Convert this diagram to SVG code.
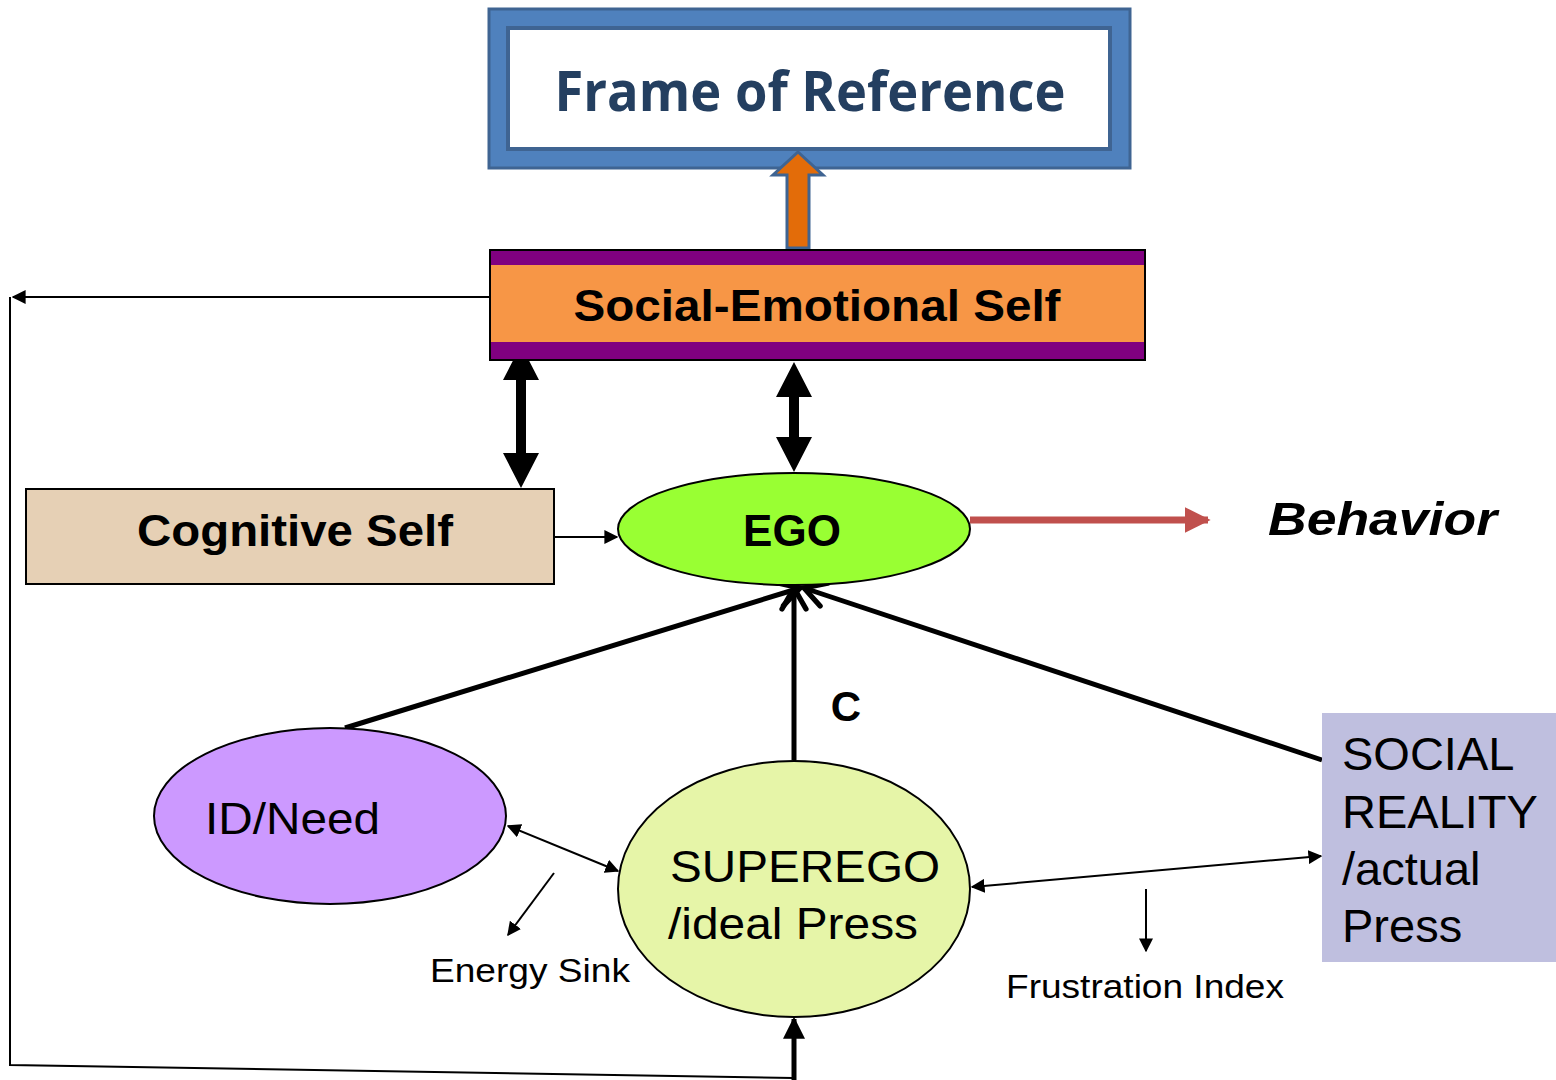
<svg xmlns="http://www.w3.org/2000/svg" width="1556" height="1080" viewBox="0 0 1556 1080">
  <style>
    .lbl { font-family: "Liberation Sans", Arial, sans-serif; fill: #000; }
    .bold { font-weight: bold; }
    .thin { stroke: #000; stroke-width: 2; fill: none; }
    .thick { stroke: #000; stroke-width: 5; fill: none; }
    .node { stroke: #000; stroke-width: 2; }
  </style>
  <defs>
    <marker id="triS" viewBox="0 0 10 10" refX="9" refY="5" markerWidth="14" markerHeight="14" markerUnits="userSpaceOnUse" orient="auto-start-reverse">
      <path d="M0,0 L10,5 L0,10 z" fill="#000"/>
    </marker>
    <marker id="chev" viewBox="0 0 20 20" refX="18" refY="10" markerWidth="30" markerHeight="30" markerUnits="userSpaceOnUse" orient="auto">
      <path d="M4,2 L18,10 L4,18" fill="none" stroke="#000" stroke-width="3.5" stroke-linecap="round"/>
    </marker>
    <marker id="big" viewBox="0 0 10 10" refX="9" refY="5" markerWidth="22" markerHeight="22" markerUnits="userSpaceOnUse" orient="auto">
      <path d="M0,0 L10,5 L0,10 z" fill="#000"/>
    </marker>
    <marker id="red" viewBox="0 0 10 10" refX="9" refY="5" markerWidth="26" markerHeight="26" markerUnits="userSpaceOnUse" orient="auto">
      <path d="M0,0 L10,5 L0,10 z" fill="#C0504D"/>
    </marker>
  </defs>

  <rect width="1556" height="1080" fill="#fff"/>

  <!-- Frame of Reference -->
  <g id="frame-of-reference">
    <rect x="489" y="9" width="641" height="159" fill="#4F81BD" stroke="#3F6492" stroke-width="3"/>
    <rect x="508" y="28" width="602" height="121" fill="#fff" stroke="#3F6492" stroke-width="4"/>
    <text x="810" y="111" text-anchor="middle" font-family="'Open Sans', 'Noto Sans', sans-serif" font-weight="bold" font-size="56" fill="#243F60" textLength="511" lengthAdjust="spacingAndGlyphs">Frame of Reference</text>
  </g>

  <!-- connectors -->
  <g id="connectors">
    <!-- feedback loop from Social-Emotional Self round to SUPEREGO -->
    <line x1="489" y1="297" x2="13" y2="297" class="thin" stroke-width="3" marker-end="url(#triS)"/>
    <polyline points="10,297 10,1065 793,1078" class="thin" stroke-width="3"/>
    <line x1="794" y1="1080" x2="794" y2="1019" class="thick" marker-end="url(#big)"/>

    <!-- orange block arrow up to Frame of Reference -->
    <polygon points="798,152 823,175 809,175 809,248 787,248 787,175 773,175" fill="#E36C09" stroke="#3F6492" stroke-width="3" stroke-linejoin="miter"/>

    <!-- thick double arrows -->
    <polygon points="521,345 539,380 526,380 526,453 539,453 521,488 503,453 516,453 516,380 503,380" fill="#000"/>
    <polygon points="794,362 812,397 799,397 799,437 812,437 794,472 776,437 789,437 789,397 776,397" fill="#000"/>

    <!-- Cognitive Self to EGO -->
    <line x1="554" y1="537" x2="617" y2="537" class="thin" marker-end="url(#triS)"/>

    <!-- EGO to Behavior -->
    <line x1="970" y1="520" x2="1208" y2="520" stroke="#C0504D" stroke-width="7" marker-end="url(#red)"/>

    <!-- converging thick lines into EGO -->
    <line x1="345" y1="728" x2="800" y2="588" class="thick" marker-end="url(#chev)"/>
    <line x1="794" y1="760" x2="794" y2="588" class="thick" marker-end="url(#chev)"/>
    <line x1="1322" y1="760" x2="804" y2="588" class="thick" marker-end="url(#chev)"/>

    <!-- ID / SUPEREGO -->
    <line x1="508" y1="826" x2="618" y2="871" class="thin" marker-start="url(#triS)" marker-end="url(#triS)"/>
    <line x1="554" y1="873" x2="508" y2="935" class="thin" marker-end="url(#triS)"/>

    <!-- SUPEREGO / SOCIAL REALITY -->
    <line x1="972" y1="887" x2="1321" y2="856" class="thin" marker-start="url(#triS)" marker-end="url(#triS)"/>
    <line x1="1146" y1="889" x2="1146" y2="951" class="thin" marker-end="url(#triS)"/>
  </g>

  <!-- Social-Emotional Self -->
  <g id="social-emotional-self">
    <rect x="490" y="250" width="655" height="110" fill="#800080"/>
    <rect x="490" y="265" width="655" height="77" fill="#F79646"/>
    <rect x="490" y="250" width="655" height="110" fill="none" stroke="#000" stroke-width="2"/>
    <text x="817" y="321" text-anchor="middle" class="lbl bold" font-size="44" textLength="487" lengthAdjust="spacingAndGlyphs">Social-Emotional Self</text>
  </g>

  <!-- Cognitive Self -->
  <g id="cognitive-self">
    <rect x="26" y="489" width="528" height="95" fill="#E6D0B5" class="node"/>
    <text x="295" y="546" text-anchor="middle" class="lbl bold" font-size="44" textLength="316" lengthAdjust="spacingAndGlyphs">Cognitive Self</text>
  </g>

  <!-- EGO -->
  <g id="ego">
    <ellipse cx="794" cy="529" rx="176" ry="56" fill="#99FF33" class="node"/>
    <text x="792" y="546" text-anchor="middle" class="lbl bold" font-size="44">EGO</text>
  </g>

  <!-- Behavior -->
  <g id="behavior">
    <text x="1268" y="535" class="lbl bold" font-style="italic" font-size="46" textLength="229" lengthAdjust="spacingAndGlyphs">Behavior</text>
  </g>

  <!-- C label -->
  <text x="846" y="721" text-anchor="middle" class="lbl bold" font-size="42">C</text>

  <!-- ID/Need -->
  <g id="id-need">
    <ellipse cx="330" cy="816" rx="176" ry="88" fill="#CC99FF" class="node"/>
    <text x="205" y="834" class="lbl" font-size="44" textLength="175" lengthAdjust="spacingAndGlyphs">ID/Need</text>
  </g>

  <!-- SUPEREGO -->
  <g id="superego">
    <ellipse cx="794" cy="889" rx="176" ry="128" fill="#E6F5A8" class="node"/>
    <text x="670" y="882" class="lbl" font-size="44" textLength="270" lengthAdjust="spacingAndGlyphs">SUPEREGO</text>
    <text x="668" y="939" class="lbl" font-size="44" textLength="250" lengthAdjust="spacingAndGlyphs">/ideal Press</text>
  </g>

  <!-- SOCIAL REALITY -->
  <g id="social-reality">
    <rect x="1322" y="713" width="234" height="249" fill="#BFBFDF"/>
    <text class="lbl" font-size="47">
      <tspan x="1342" y="770">SOCIAL</tspan>
      <tspan x="1342" y="828">REALITY</tspan>
      <tspan x="1342" y="885">/actual</tspan>
      <tspan x="1342" y="942">Press</tspan>
    </text>
  </g>

  <!-- small labels -->
  <text x="430" y="982" class="lbl" font-size="34" textLength="200" lengthAdjust="spacingAndGlyphs">Energy Sink</text>
  <text x="1006" y="998" class="lbl" font-size="34" textLength="278" lengthAdjust="spacingAndGlyphs">Frustration Index</text>
</svg>
